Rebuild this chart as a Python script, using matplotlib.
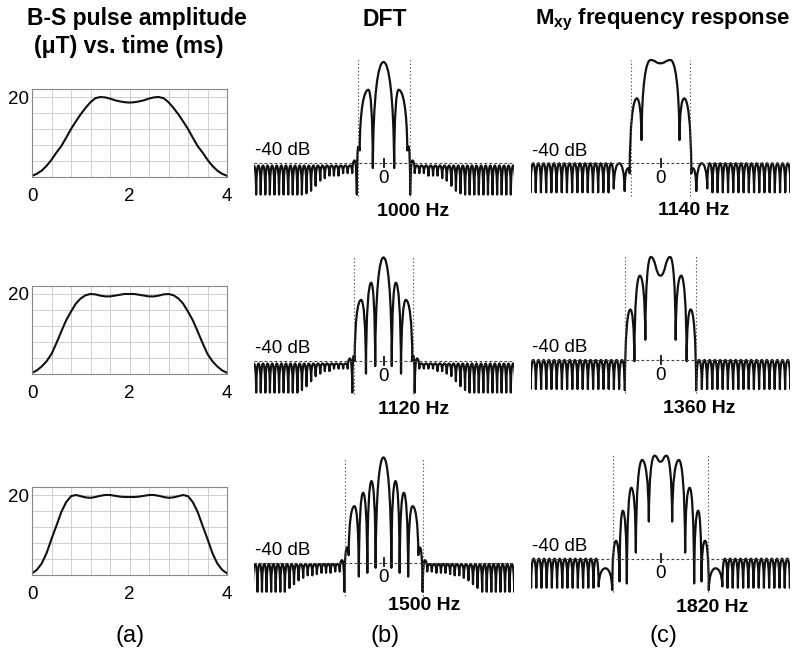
import numpy as np
import matplotlib
matplotlib.use("Agg")
import matplotlib.pyplot as plt
from matplotlib.path import Path
from matplotlib.patches import PathPatch

plt.rcParams['font.family'] = ['Liberation Sans', 'DejaVu Sans']
plt.rcParams['mathtext.fontset'] = 'custom'
plt.rcParams['mathtext.rm'] = 'Liberation Sans:bold'
plt.rcParams['mathtext.it'] = 'Liberation Sans:bold'
plt.rcParams['mathtext.bf'] = 'Liberation Sans:bold'

# ---- column (a): B-S pulse amplitude (uT), sampled every 0.1 ms ----
t_ms = np.round(np.arange(0, 4.01, 0.1), 1)
pulse_1 = [0.3, 0.8, 1.6, 2.8, 4.3, 6.1, 7.7, 9.8, 12.0, 13.9, 15.7, 17.3, 18.7, 19.7, 20.0,
           19.9, 19.6, 19.2, 18.9, 18.7, 18.6, 18.7, 18.9, 19.2, 19.6, 19.9, 20.0, 19.7, 18.7,
           17.3, 15.7, 13.9, 12.0, 9.8, 7.7, 6.1, 4.3, 2.8, 1.6, 0.8, 0.3]
pulse_2 = [0.3, 0.9, 1.9, 3.2, 5.0, 7.7, 10.6, 13.4, 15.6, 17.6, 18.9, 19.7, 20.0, 19.9, 19.6,
           19.4, 19.4, 19.6, 19.8, 20.0, 20.0, 20.0, 19.8, 19.6, 19.4, 19.4, 19.6, 19.9, 20.0,
           19.7, 18.9, 17.6, 15.6, 13.4, 10.6, 7.7, 5.0, 3.2, 1.9, 0.9, 0.3]
pulse_3 = [0.4, 1.3, 2.9, 5.5, 9.0, 12.3, 15.7, 18.2, 19.7, 20.0, 19.7, 19.4, 19.3, 19.5, 19.8,
           20.0, 20.0, 19.8, 19.6, 19.5, 19.5, 19.5, 19.6, 19.8, 20.0, 20.0, 19.8, 19.5, 19.3,
           19.4, 19.7, 20.0, 19.7, 18.2, 15.7, 12.3, 9.0, 5.5, 2.9, 1.3, 0.4]
pulses = [pulse_1, pulse_2, pulse_3]

# ---- column (b): DFT, passband lobes (Hz, dB) ----
bw_b = [1000, 1120, 1500]
dft1_x = [-513, -484, -458, -290, -205, 0, 205, 290, 458, 484, 513]
dft1_db = [-52.5, -33.5, -35, -11, -42, 0, -42, -11, -35, -33.5, -52.5]
dft2_x = [-600, -575, -555, -430, -337, -237, -160, 0, 160, 237, 337, 430, 555, 575, 600]
dft2_db = [-52.5, -38, -40, -15.8, -45, -9, -42, 1, -42, -9, -45, -15.8, -40, -38, -52.5]
dft3_x = [-753, -702, -670, -558, -474, -391, -311, -231, -151, 0,
          151, 231, 311, 391, 474, 558, 670, 702, 753]
dft3_db = [-51.5, -34, -37, -17.6, -45.5, -12.3, -44, -7.7, -42, 1.7,
           -42, -7.7, -44, -12.3, -45.5, -17.6, -37, -34, -51.5]
# stopband ripples next to the band edge (innermost first)
dft1_near_nulls = [-44, -44, -44, -45, -45, -45, -46, -47, -49, -51, -52]
dft2_near_nulls = [-43, -43, -43, -43, -44, -44, -45, -46, -48, -50, -51.5]
dft3_near_nulls = [-43.5, -43.5, -44, -44, -44, -44.5, -45, -45, -46, -47, -48.5, -50]
dft_far_null = [-52.5, -52.5, -51.5]
dft_near_peak = [-39, -39, -39]
dft_far_peak = [-41, -41, -40.5]
dft_period = [88, 88, 88]

# ---- column (c): Mxy frequency response ----
bw_c = [1140, 1360, 1820]
mxy1_x = [-689, -625, -593, -455, -365, -192, 0, 192, 365, 455, 593, 625, 689]
mxy1_db = [-51, -42, -44, -14.3, -30.8, 0.9, -0.4, 0.9, -30.8, -14.3, -44, -42, -51]
mxy2_x = [-686, -580, -503, -397, -292, -186, 0, 186, 292, 397, 503, 580, 686]
mxy2_db = [-52, -20, -40.5, -6.6, -32, 0.8, -6.6, 0.8, -32, -6.6, -40.5, -20, -52]
mxy3_x = [-929, -856, -788, -724, -647, -561, -474, -353, -224, -115, 0,
          115, 224, 353, 474, 561, 647, 724, 788, 856, 929]
mxy3_db = [-52.4, -32.9, -49, -21, -49.8, -11.9, -37.6, -0.9, -25.3, 0.8, -1.6,
           0.8, -25.3, -0.9, -37.6, -11.9, -49.8, -21, -49, -32.9, -52.4]
mxy_first_width = [210, 110, 260]
mxy_first_peak = [-40, -40, -43.8]
mxy1_near_nulls = [-50]
mxy2_near_nulls = [-51.5]
mxy3_near_nulls = [-51]
mxy_far_null = [-51.5, -51.5, -51.5]
mxy_far_peak = [-40, -40, -40]
mxy_period = [100, 100, 100]

W, H = 800, 657
PX_PER_DB = 2.525
fig = plt.figure(figsize=(W / 100, H / 100), dpi=100)


def px_axes(left, top, width, height):
    return fig.add_axes([left / W, 1 - (top + height) / H, width / W, height / H])


def side_knots(edge, first_w, first_peak, period, near_nulls, far_peak, far_null, limit=2800):
    xs, ys = [], []
    x, i = abs(edge), 0
    while x < limit:
        w = first_w if i == 0 else period
        pk = first_peak if i == 0 else far_peak
        nl = near_nulls[i] if i < len(near_nulls) else far_null
        xs += [x + w * 0.5, x + w]
        ys += [pk, nl]
        x += w
        i += 1
    return xs, ys


def lobe_path(xs, ys):
    n = len(xs)

    def cusp(i):
        if i == 0 or i == n - 1:
            return True
        lo = min(ys[i - 1], ys[i + 1])
        return ys[i] < lo and (ys[i] < -20 or lo - ys[i] > 10)

    verts = [(xs[0], ys[0])]
    codes = [Path.MOVETO]
    for i in range(n - 1):
        xa, ya, xb, yb = xs[i], ys[i], xs[i + 1], ys[i + 1]
        dx, dy = xb - xa, yb - ya
        c1 = (xa + 0.04 * dx, ya + 0.7 * dy) if cusp(i) else (xa + 0.5 * dx, ya)
        c2 = (xb - 0.04 * dx, yb - 0.7 * dy) if cusp(i + 1) else (xb - 0.5 * dx, yb)
        verts += [c1, c2, (xb, yb)]
        codes += [Path.CURVE4] * 3
    return Path(verts, codes)


def spectrum_panel(left, y40, px, pdb, bw, first_w, first_peak, period, near_nulls,
                   far_peak, far_null, hz_x, hz_y):
    top = y40 - 44 * PX_PER_DB
    ax = px_axes(left, top, 260, 60 * PX_PER_DB)
    ax.set_xlim(-2500, 2500)
    ax.set_ylim(-56, 4)
    ax.axis('off')
    sx, sy = side_knots(px[-1], first_w, first_peak, period, near_nulls, far_peak, far_null)
    xs = [-v for v in sx[::-1]] + list(px) + sx
    ys = sy[::-1] + list(pdb) + sy
    ax.add_patch(PathPatch(lobe_path(xs, ys), facecolor='none', edgecolor='#111111',
                           lw=1.6, joinstyle='round'))
    ax.axhline(-40, color='#444444', lw=0.8, ls=(0, (2.5, 2)))
    for xb in (-bw / 2, bw / 2):
        ax.plot([xb, xb], [-53, 1], color='#555555', lw=0.8, ls=(0, (1.2, 2)))
    ax.plot([0, 0], [-38.3, -41.5], color='#111111', lw=1.3)
    ax.text(0, -46, '0', ha='center', va='center', fontsize=13.5)
    ax.text(-2470, -35.2, '-40 dB', ha='left', va='center', fontsize=13.5)
    ax.text(hz_x, hz_y, f'{bw} Hz', ha='center', va='center', fontsize=14,
            fontweight='bold')
    return ax


# column (a)
a_tops = [89, 286, 487]
xtick_labels = ['0', '', '', '', '', '2', '', '', '', '', '4']
for top, amp in zip(a_tops, pulses):
    ax = px_axes(32, top, 195, 88)
    ax.plot(t_ms, amp, color='#111111', lw=1.5)
    ax.set_xlim(0, 4)
    ax.set_ylim(0, 22)
    ax.set_xticks(np.arange(0, 4.01, 0.4))
    ax.set_xticklabels(xtick_labels)
    ax.set_yticks(np.arange(0, 20.1, 4))
    ax.set_yticklabels(['', '', '', '', '', '20'])
    ax.tick_params(length=0, labelsize=13.5)
    ax.tick_params(axis='x', pad=8)
    ax.tick_params(axis='y', pad=2.5)
    ax.grid(True, color='#c8c8c8', lw=0.6)
    for sp in ax.spines.values():
        sp.set_color('#888888')
        sp.set_linewidth(0.8)

# column (b)
b_y40 = [163, 361, 562.7]
b_hz_pos = [(567, -59.4), (587, -59.4), (779, -56.8)]
dft_x = [dft1_x, dft2_x, dft3_x]
dft_db = [dft1_db, dft2_db, dft3_db]
dft_near = [dft1_near_nulls, dft2_near_nulls, dft3_near_nulls]
for i in range(3):
    spectrum_panel(253.5, b_y40[i], dft_x[i], dft_db[i], bw_b[i], dft_period[i],
                   dft_near_peak[i], dft_period[i], dft_near[i], dft_far_peak[i],
                   dft_far_null[i], b_hz_pos[i][0], b_hz_pos[i][1])

# column (c)
c_y40 = [163.3, 360, 558.7]
c_hz_pos = [(644, -58.5), (740, -59.4), (990, -59.5)]
mxy_x = [mxy1_x, mxy2_x, mxy3_x]
mxy_db = [mxy1_db, mxy2_db, mxy3_db]
mxy_near = [mxy1_near_nulls, mxy2_near_nulls, mxy3_near_nulls]
for i in range(3):
    spectrum_panel(530.5, c_y40[i], mxy_x[i], mxy_db[i], bw_c[i], mxy_first_width[i],
                   mxy_first_peak[i], mxy_period[i], mxy_near[i], mxy_far_peak[i],
                   mxy_far_null[i], c_hz_pos[i][0], c_hz_pos[i][1])


def ftext(x, y, s, **kw):
    fig.text(x / W, 1 - y / H, s, ha='center', va='center', **kw)


ftext(137, 19, 'B-S pulse amplitude', fontsize=16.5, fontweight='bold')
ftext(129, 46, '(\u03bcT) vs. time (ms)', fontsize=16.5, fontweight='bold')
ftext(385, 19, 'DFT', fontsize=16.5, fontweight='bold')
ftext(663, 20, r'M$_{xy}$ frequency response', fontsize=16, fontweight='bold')
ftext(130, 636, '(a)', fontsize=17)
ftext(385, 636, '(b)', fontsize=17)
ftext(663, 636, '(c)', fontsize=17)

fig.savefig('out.png', dpi=100)
